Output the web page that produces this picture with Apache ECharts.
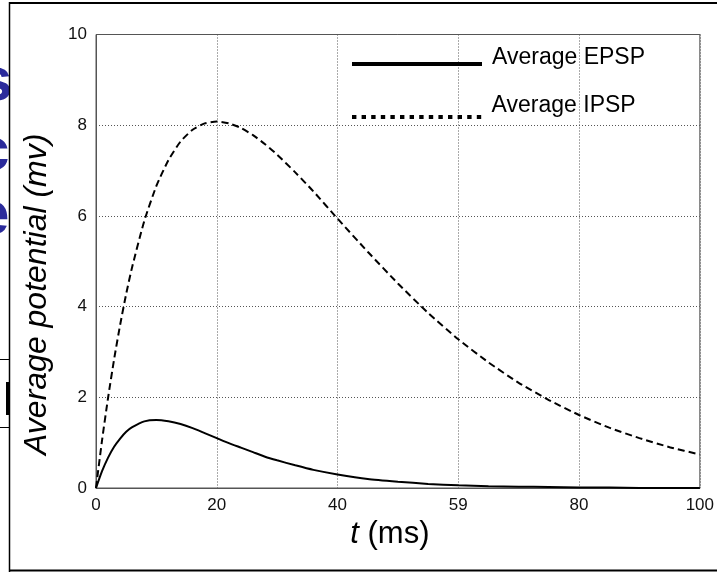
<!DOCTYPE html>
<html>
<head>
<meta charset="utf-8">
<script src="https://cdn.jsdelivr.net/npm/echarts@6/dist/echarts.min.js"></script>
<style>html,body{margin:0;padding:0;background:#fff}#c{width:717px;height:572px}</style>
</head>
<body>
<div id="c"></div>
<script>
// time points (ms)
const tValues = [0,1,2,3,4,5,6,8,10,12,14,16,18,20,22,24,26,28,30,33,36,40,45,50,55,60,65,70,75,80,85,90,95,100];
// Average EPSP (mV)
const epsp = [0,0.37,0.67,0.91,1.09,1.24,1.34,1.47,1.50,1.47,1.41,1.32,1.21,1.10,0.99,0.89,0.79,0.69,0.61,0.50,0.40,0.30,0.20,0.14,0.09,0.06,0.04,0.03,0.02,0.01,0.01,0.00,0.00,0.00];
// Average IPSP (mV)
const ipsp = [0,1.05,1.99,2.84,3.60,4.28,4.88,5.89,6.66,7.23,7.64,7.90,8.04,8.08,8.04,7.94,7.78,7.58,7.35,6.96,6.54,5.94,5.21,4.51,3.86,3.28,2.77,2.32,1.94,1.61,1.33,1.10,0.90,0.74];
const xTickLabels = ['0','20','40','59','80','100'];
const yTickLabels = ['0','2','4','6','8','10'];
const seriesNames = ['Average EPSP','Average IPSP'];

const font = 'Liberation Sans, Arial, sans-serif';

// dotted legend key drawn as a row of small squares
let dotPath = 'path://';
for (let i = 0; i < 14; i++) { dotPath += 'M' + (i * 9.6) + ',0h4.4v4h-4.4z'; }

function legendCfg(name, icon, top, lift) {
  return {
    data: [{name: name, icon: icon}],
    left: 352, top: top, itemWidth: 130, itemHeight: 4, padding: 0,
    formatter: n => '{t|' + n + '}\n{g| }',
    textStyle: {
      fontFamily: font, fontSize: 23, color: '#000',
      rich: {
        t: {fontFamily: font, fontSize: 23, lineHeight: 23, color: '#000', padding: [0,0,0,5]},
        g: {fontSize: 1, lineHeight: lift}
      }
    }
  };
}

const chart = echarts.init(document.getElementById('c'));
chart.setOption({
  animation: false,
  backgroundColor: '#fff',
  grid: {left: 96, top: 34.5, right: 15, bottom: 84, show: true, borderColor: '#555', borderWidth: 1},
  xAxis: {
    type: 'value', min: 0, max: 100, interval: 20,
    axisLine: {show: true, lineStyle: {color: '#555', width: 1}},
    axisTick: {show: false},
    splitLine: {show: true, lineStyle: {color: '#555', type: [1,2], width: 1}},
    axisLabel: {color: '#111', fontFamily: font, fontSize: 17, margin: 9,
      formatter: v => xTickLabels[Math.round(v/20)]},
    name: '{i|t} (ms)', nameLocation: 'middle', nameGap: 30,
    nameTextStyle: {color: '#000', fontFamily: font, fontSize: 31, padding: [0, 16, 0, 0],
      rich: {i: {fontStyle: 'italic', fontFamily: font, fontSize: 31, color: '#000'}}}
  },
  yAxis: {
    type: 'value', min: 0, max: 10, interval: 2,
    axisLine: {show: true, lineStyle: {color: '#555', width: 1}},
    axisTick: {show: false},
    splitLine: {show: true, lineStyle: {color: '#555', type: [1,2], width: 1}},
    axisLabel: {color: '#111', fontFamily: font, fontSize: 17, margin: 9,
      formatter: v => yTickLabels[Math.round(v/2)]},
    name: 'Average potential (mv)', nameLocation: 'middle', nameGap: 43,
    nameTextStyle: {color: '#000', fontFamily: font, fontSize: 32, fontStyle: 'italic', padding: [0, 66, 0, 0]}
  },
  legend: [
    legendCfg(seriesNames[0], 'rect', 46.5, 12),
    legendCfg(seriesNames[1], dotPath, 94.5, 22)
  ],
  series: [
    {name: seriesNames[0], type: 'line', symbol: 'none', smooth: 0.2,
     data: tValues.map((t,i)=>[t, epsp[i]]),
     lineStyle: {color: '#000', width: 2}, itemStyle: {color: '#000'}},
    {name: seriesNames[1], type: 'line', symbol: 'none', smooth: 0.2,
     data: tValues.map((t,i)=>[t, ipsp[i]]),
     lineStyle: {color: '#000', width: 2, type: [7,4]}, itemStyle: {color: '#000'}}
  ],
  graphic: [
    {type: 'text', left: -22, top: 52, style: {text: 's', font: 'bold 62px Liberation Sans', fill: '#2b2b9b'}},
    {type: 'text', left: -25, top: 122, style: {text: 'c', font: 'bold 62px Liberation Sans', fill: '#2b2b9b'}},
    {type: 'text', left: -25, top: 186, style: {text: 'e', font: 'bold 62px Liberation Sans', fill: '#2b2b9b'}},
    {type: 'line', shape: {x1: 9.5, y1: 2, x2: 9.5, y2: 572}, style: {stroke: '#000', lineWidth: 1.5}},
    {type: 'line', shape: {x1: 9, y1: 3, x2: 717, y2: 3}, style: {stroke: '#000', lineWidth: 2}},
    {type: 'line', shape: {x1: 9, y1: 570.5, x2: 717, y2: 570.5}, style: {stroke: '#000', lineWidth: 2}},
    {type: 'line', shape: {x1: 0, y1: 359.5, x2: 9, y2: 359.5}, style: {stroke: '#000', lineWidth: 1}},
    {type: 'line', shape: {x1: 0, y1: 427.5, x2: 9, y2: 427.5}, style: {stroke: '#000', lineWidth: 1}},
    {type: 'rect', shape: {x: 6, y: 382, width: 3, height: 33}, style: {fill: '#000'}}
  ]
});
</script>
</body>
</html>
